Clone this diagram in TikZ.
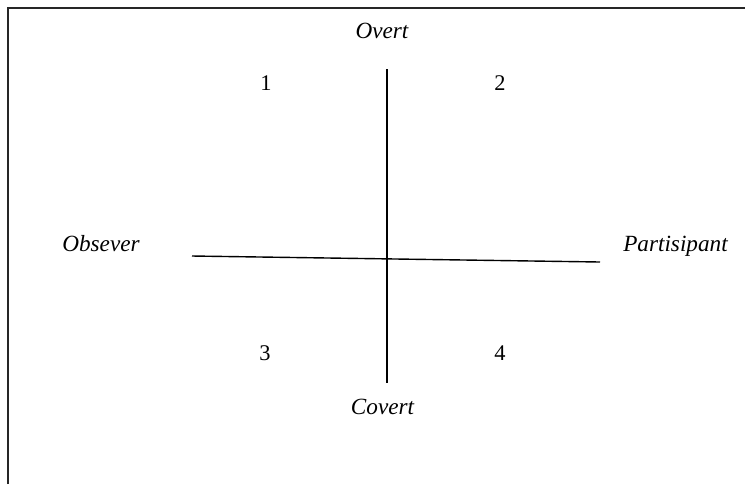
\documentclass[tikz,border=0pt]{standalone}
\usepackage{fontspec}
\setmainfont{Liberation Serif}
\usetikzlibrary{positioning}

\tikzset{
  axislabel/.style={anchor=base, inner sep=0pt, font=\itshape\fontsize{11.6}{14}\selectfont},
  cellnum/.style={anchor=base, inner sep=0pt, font=\fontsize{11.2}{14}\selectfont},
  axisline/.style={line width=0.7pt, black}
}

\begin{document}
\begin{tikzpicture}[x=0.5pt, y=-0.5pt]
  \useasboundingbox (0,0) rectangle (745,484);
  % frame (top and left edge only)
  \draw[line width=1.1pt, black!85] (8,484) -- (8,8) -- (745,8);
  % axis end points
  \coordinate (obsend) at (192,256);
  \coordinate (parend) at (600,262);
  \coordinate (ovend) at (387,69);
  \coordinate (coend) at (387,383);
  % axes
  \draw[axisline] (obsend) -- (parend);
  \draw[axisline] (ovend) -- (coend);
  % axis labels
  \node[axislabel] (overt) at (382,38) {Overt};
  \node[axislabel] (covert) at (382.5,414) {Covert};
  \node[axislabel] (obsever) at (101,251) {Obsever};
  \node[axislabel] (partisipant) at (675.5,251) {Partisipant};
  % quadrant numbers
  \node[cellnum] (q1) at (266,90) {1};
  \node[cellnum] (q2) at (500,90) {2};
  \node[cellnum] (q3) at (265,360) {3};
  \node[cellnum] (q4) at (500,360) {4};
\end{tikzpicture}
\end{document}
